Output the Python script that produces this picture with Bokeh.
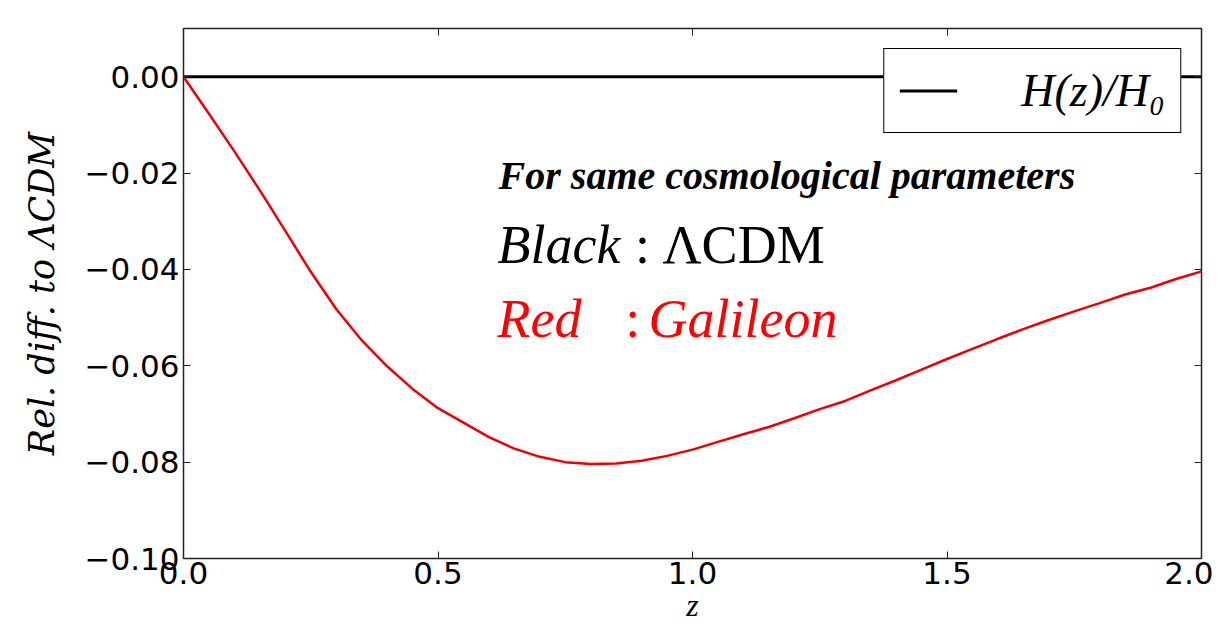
from bokeh.plotting import figure
from bokeh.models import Label, LinearAxis, FixedTicker, Range1d, Legend, LegendItem
from bokeh.embed import file_html
from bokeh.resources import INLINE

# ---- data ----
z = [0.0, 0.05, 0.1, 0.15, 0.2, 0.25, 0.3, 0.35, 0.4, 0.45, 0.5, 0.55, 0.6, 0.65, 0.7,
     0.75, 0.8, 0.85, 0.9, 0.95, 1.0, 1.05, 1.1, 1.15, 1.2, 1.25, 1.3, 1.35, 1.4, 1.45,
     1.5, 1.55, 1.6, 1.65, 1.7, 1.75, 1.8, 1.85, 1.9, 1.95, 2.0]
galileon = [0.0, -0.0077, -0.0155, -0.0236, -0.0320, -0.0405, -0.0482, -0.0547, -0.0601,
            -0.0648, -0.0688, -0.0718, -0.0748, -0.0772, -0.0789, -0.0800, -0.0804, -0.0803,
            -0.0797, -0.0787, -0.0774, -0.0758, -0.0742, -0.0727, -0.0709, -0.0690, -0.0673,
            -0.0651, -0.0630, -0.0608, -0.0586, -0.0565, -0.0544, -0.0524, -0.0505, -0.0487,
            -0.0470, -0.0452, -0.0438, -0.0420, -0.0404]
lcdm = [0.0 for _ in z]

x_ticks = [0.0, 0.5, 1.0, 1.5, 2.0]
x_tick_labels = ["0.0", "0.5", "1.0", "1.5", "2.0"]
y_ticks = [-0.10, -0.08, -0.06, -0.04, -0.02, 0.0]
y_tick_labels = ["\u22120.10", "\u22120.08", "\u22120.06", "\u22120.04", "\u22120.02", "0.00"]

SERIF = "Liberation Serif"
SANS = "DejaVu Sans"

p = figure(width=1213, height=635, output_backend="svg", toolbar_location=None,
           x_range=Range1d(0.0, 2.0), y_range=Range1d(-0.10, 0.01),
           min_border_left=183, min_border_right=12, min_border_top=28, min_border_bottom=77)
p.xgrid.visible = False
p.ygrid.visible = False
p.outline_line_color = "#222222"
p.outline_line_width = 1.5
p.outline_line_alpha = 1.0
p.background_fill_color = "white"
p.border_fill_color = "white"

r_black = p.line(z, lcdm, line_color="black", line_width=3)
r_red = p.line(z, galileon, line_color="#ee0000", line_width=2.5)

# axes styling
for ax, ticks, labels in ((p.xaxis[0], x_ticks, x_tick_labels), (p.yaxis[0], y_ticks, y_tick_labels)):
    ax.ticker = FixedTicker(ticks=ticks)
    ax.major_label_overrides = {t: l for t, l in zip(ticks, labels)}
    ax.major_label_text_font = SANS
    ax.major_label_text_font_size = "31px"
    ax.major_label_text_color = "black"
    ax.major_tick_in = 7
    ax.major_tick_out = 0
    ax.minor_tick_line_color = None
    ax.axis_line_color = "#222222"
    ax.major_tick_line_color = "#222222"
    ax.axis_label_text_font_style = "italic"
    ax.axis_label_text_color = "black"

p.xaxis[0].axis_label = "z"
p.xaxis[0].axis_label_text_font = SERIF
p.xaxis[0].axis_label_text_font_size = "32px"
p.xaxis[0].major_label_standoff = 3
p.xaxis[0].axis_label_standoff = 0
p.yaxis[0].axis_label = "Rel. diff. to \u039bCDM"
p.yaxis[0].axis_label_text_font = "DejaVu Serif"
p.yaxis[0].axis_label_text_font_size = "35px"
p.yaxis[0].major_label_standoff = 4
p.yaxis[0].axis_label_standoff = 20

# mirror ticks on top / right
for loc, ticks in (("right", y_ticks), ("above", x_ticks)):
    a = LinearAxis(ticker=FixedTicker(ticks=ticks), major_label_text_font_size="0px",
                   major_tick_in=7, major_tick_out=0, minor_tick_line_color=None,
                   axis_line_color=None, major_tick_line_color="#222222",
                   major_label_standoff=0)
    p.add_layout(a, loc)

# legend
legend = Legend(items=[LegendItem(label="H(z)/H\u2080", renderers=[r_black])],
                location="top_right")
legend.label_text_font = SERIF
legend.label_text_font_style = "italic"
legend.label_text_font_size = "46px"
legend.label_text_color = "black"
legend.glyph_width = 58
legend.glyph_height = 49
legend.label_height = 49
legend.label_standoff = 64
legend.padding = 15
legend.margin = 20
legend.border_line_color = "black"
legend.border_line_alpha = 1.0
legend.border_line_width = 1.5
legend.background_fill_alpha = 1.0
p.add_layout(legend)

# annotations
BIG = "54px"
p.add_layout(Label(x=0.619, y=-0.0205, text="For same cosmological parameters",
                   text_font=SERIF, text_font_style="bold italic", text_font_size="40px",
                   text_color="black", text_baseline="alphabetic"))
p.add_layout(Label(x=0.617, y=-0.0350, text="Black",
                   text_font=SERIF, text_font_style="italic", text_font_size=BIG,
                   text_color="black", text_baseline="alphabetic"))
p.add_layout(Label(x=0.887, y=-0.0350, text=":",
                   text_font=SERIF, text_font_size=BIG,
                   text_color="black", text_baseline="alphabetic"))
p.add_layout(Label(x=0.941, y=-0.0350, text="\u039bCDM",
                   text_font=SERIF, text_font_size=BIG,
                   text_color="black", text_baseline="alphabetic"))
p.add_layout(Label(x=0.617, y=-0.0502, text="Red",
                   text_font=SERIF, text_font_style="italic", text_font_size=BIG,
                   text_color="#ff0000", text_baseline="alphabetic"))
p.add_layout(Label(x=0.868, y=-0.0502, text=":",
                   text_font=SERIF, text_font_size=BIG,
                   text_color="#ff0000", text_baseline="alphabetic"))
p.add_layout(Label(x=0.9136, y=-0.0502, text="Galileon",
                   text_font=SERIF, text_font_style="italic", text_font_size=BIG,
                   text_color="#ff0000", text_baseline="alphabetic"))

open("out.html", "w").write(file_html(p, INLINE))
